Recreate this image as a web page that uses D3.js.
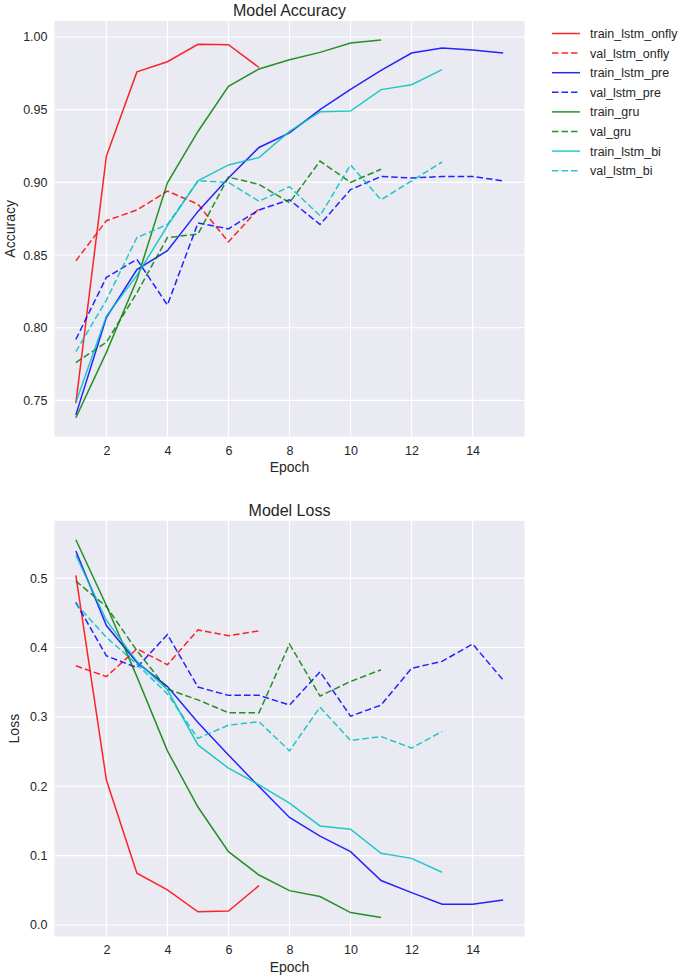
<!DOCTYPE html>
<html>
<head>
<meta charset="utf-8">
<script src="https://cdn.jsdelivr.net/npm/d3@7"></script>
<style>
  html, body { margin: 0; padding: 0; background: #ffffff; }
  svg { display: block; font-family: "Liberation Sans", Arial, sans-serif; }
</style>
</head>
<body>
<svg id="chart" width="684" height="979"></svg>
<script>
// ---- data ----
const seriesNames = ["train_lstm_onfly", "val_lstm_onfly", "train_lstm_pre", "val_lstm_pre",
                     "train_gru", "val_gru", "train_lstm_bi", "val_lstm_bi"];
const seriesColors = ["#ff0000", "#ff0000", "#0000ff", "#0000ff", "#008000", "#008000", "#00bfbf", "#00bfbf"];
const seriesDashed = [false, true, false, true, false, true, false, true];

const accTrainLstmOnfly = [0.748, 0.918, 0.976, 0.983, 0.995, 0.9947, 0.979];
const accValLstmOnfly   = [0.846, 0.8736, 0.881, 0.894, 0.885, 0.859, 0.882];
const accTrainLstmPre   = [0.740, 0.807, 0.840, 0.853, 0.880, 0.903, 0.924, 0.934, 0.950, 0.964, 0.977, 0.989, 0.9924, 0.991, 0.989];
const accValLstmPre     = [0.792, 0.8346, 0.847, 0.8156, 0.872, 0.868, 0.881, 0.888, 0.871, 0.895, 0.904, 0.903, 0.904, 0.904, 0.901];
const accTrainGru       = [0.738, 0.783, 0.833, 0.8997, 0.935, 0.966, 0.978, 0.9844, 0.9894, 0.9959, 0.998];
const accValGru         = [0.776, 0.790, 0.824, 0.862, 0.8644, 0.9036, 0.8986, 0.886, 0.9146, 0.900, 0.909];
const accTrainLstmBi    = [0.7486, 0.808, 0.836, 0.870, 0.901, 0.912, 0.917, 0.935, 0.9485, 0.949, 0.9638, 0.9672, 0.9775];
const accValLstmBi      = [0.7835, 0.819, 0.862, 0.871, 0.901, 0.900, 0.887, 0.897, 0.877, 0.912, 0.888, 0.901, 0.914];

const lossTrainLstmOnfly = [0.504, 0.209, 0.0745, 0.0505, 0.019, 0.020, 0.0567];
const lossValLstmOnfly   = [0.3737, 0.358, 0.398, 0.3752, 0.4253, 0.417, 0.424];
const lossTrainLstmPre   = [0.539, 0.4316, 0.3786, 0.3437, 0.292, 0.245, 0.1995, 0.155, 0.128, 0.1057, 0.064, 0.0466, 0.030, 0.0298, 0.036];
const lossValLstmPre     = [0.465, 0.388, 0.371, 0.4186, 0.343, 0.331, 0.331, 0.317, 0.365, 0.301, 0.317, 0.370, 0.380, 0.405, 0.353];
const lossTrainGru       = [0.5554, 0.4605, 0.358, 0.251, 0.170, 0.1057, 0.072, 0.0495, 0.041, 0.0178, 0.0106];
const lossValGru         = [0.4957, 0.459, 0.3954, 0.340, 0.3245, 0.306, 0.306, 0.405, 0.330, 0.351, 0.368];
const lossTrainLstmBi    = [0.533, 0.439, 0.380, 0.339, 0.2596, 0.226, 0.202, 0.1755, 0.1428, 0.138, 0.1034, 0.096, 0.076];
const lossValLstmBi      = [0.463, 0.4147, 0.376, 0.333, 0.269, 0.288, 0.293, 0.251, 0.314, 0.266, 0.2716, 0.255, 0.279];

const accSeries  = [accTrainLstmOnfly, accValLstmOnfly, accTrainLstmPre, accValLstmPre, accTrainGru, accValGru, accTrainLstmBi, accValLstmBi];
const lossSeries = [lossTrainLstmOnfly, lossValLstmOnfly, lossTrainLstmPre, lossValLstmPre, lossTrainGru, lossValGru, lossTrainLstmBi, lossValLstmBi];

const xTicks = [2, 4, 6, 8, 10, 12, 14];
const accTicks = [0.75, 0.80, 0.85, 0.90, 0.95, 1.00];
const lossTicks = [0.0, 0.1, 0.2, 0.3, 0.4, 0.5];

// ---- layout ----
const svg = d3.select("#chart");
const plotLeft = 54.5, plotRight = 524.5;
const textColor = "#262626";

function withMargin(lo, hi) { const m = (hi - lo) * 0.05; return [lo - m, hi + m]; }

const maxEpoch = d3.max(accSeries, s => s.length);
const x = d3.scaleLinear().domain(withMargin(1, maxEpoch)).range([plotLeft, plotRight]);

function drawPanel(cfg) {
  const { top, bottom, series, yTicks, yFormat, title, ylabel, ylabelX } = cfg;
  const all = series.flat();
  const y = d3.scaleLinear().domain(withMargin(d3.min(all), d3.max(all))).range([bottom, top]);
  const g = svg.append("g");

  g.append("rect").attr("x", plotLeft).attr("y", top)
    .attr("width", plotRight - plotLeft).attr("height", bottom - top).attr("fill", "#eaeaf2");

  // grid
  g.append("g").selectAll("line").data(xTicks).join("line")
    .attr("x1", d => x(d)).attr("x2", d => x(d)).attr("y1", top).attr("y2", bottom)
    .attr("stroke", "#ffffff").attr("stroke-width", 1.1);
  g.append("g").selectAll("line").data(yTicks).join("line")
    .attr("x1", plotLeft).attr("x2", plotRight).attr("y1", d => y(d)).attr("y2", d => y(d))
    .attr("stroke", "#ffffff").attr("stroke-width", 1.1);

  // axes via d3 axis generators (no domain/tick lines, like seaborn darkgrid)
  const xAxis = d3.axisBottom(x).tickValues(xTicks).tickSize(0).tickPadding(9).tickFormat(d3.format("d"));
  const xg = g.append("g").attr("transform", `translate(0,${bottom})`).call(xAxis);
  const yAxis = d3.axisLeft(y).tickValues(yTicks).tickSize(0).tickPadding(7).tickFormat(d3.format(yFormat));
  const yg = g.append("g").attr("transform", `translate(${plotLeft},0)`).call(yAxis);
  [xg, yg].forEach(a => {
    a.select(".domain").remove();
    a.selectAll("text").attr("fill", textColor).attr("font-size", 12.5)
      .attr("font-family", "'Liberation Sans', Arial, sans-serif");
  });

  // lines
  const line = d3.line().x((d, i) => x(i + 1)).y(d => y(d));
  series.forEach((s, k) => {
    g.append("path").datum(s).attr("d", line)
      .attr("fill", "none").attr("stroke", seriesColors[k]).attr("stroke-width", 1.5)
      .attr("stroke-opacity", 0.85)
      .attr("stroke-dasharray", seriesDashed[k] ? "6.5,3" : null);
  });

  // title and labels
  g.append("text").attr("x", (plotLeft + plotRight) / 2).attr("y", top - 5)
    .attr("text-anchor", "middle").attr("fill", textColor).attr("font-size", 16).text(title);
  g.append("text").attr("x", (plotLeft + plotRight) / 2).attr("y", bottom + 35)
    .attr("text-anchor", "middle").attr("fill", textColor).attr("font-size", 14).text("Epoch");
  g.append("text").attr("transform", `translate(${ylabelX},${(top + bottom) / 2}) rotate(-90)`)
    .attr("text-anchor", "middle").attr("fill", textColor).attr("font-size", 14).text(ylabel);
}

drawPanel({ top: 21, bottom: 436.7, series: accSeries, yTicks: accTicks, yFormat: ".2f",
            title: "Model Accuracy", ylabel: "Accuracy", ylabelX: 15 });
drawPanel({ top: 520.8, bottom: 936.5, series: lossSeries, yTicks: lossTicks, yFormat: ".1f",
            title: "Model Loss", ylabel: "Loss", ylabelX: 19 });

// legend
const legend = svg.append("g");
seriesNames.forEach((name, k) => {
  const yy = 33.5 + k * 19.6;
  legend.append("line").attr("x1", 552).attr("x2", 580).attr("y1", yy).attr("y2", yy)
    .attr("stroke", seriesColors[k]).attr("stroke-width", 1.5).attr("stroke-opacity", 0.85)
    .attr("stroke-dasharray", seriesDashed[k] ? "6.5,3" : null);
  legend.append("text").attr("x", 590).attr("y", yy + 4.5).attr("fill", textColor)
    .attr("font-size", 12.5).text(name);
});
</script>
</body>
</html>
